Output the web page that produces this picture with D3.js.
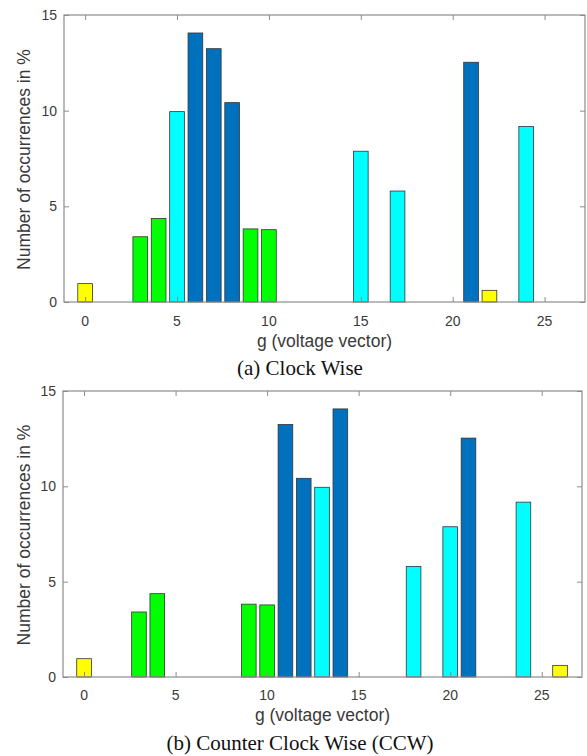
<!DOCTYPE html>
<html><head><meta charset="utf-8">
<script src="https://cdn.jsdelivr.net/npm/d3@7"></script>
<style>body{margin:0;background:#fff}svg{display:block}</style>
</head><body>
<svg id="c" width="587" height="756"></svg>
<script>
// Data: (a) Clock Wise
const cwG      = [0, 3, 4, 5, 6, 7, 8, 9, 10, 15, 17, 21, 22, 24];
const cwValues = [0.96, 3.41, 4.37, 9.95, 14.06, 13.24, 10.42, 3.82, 3.78, 7.88, 5.8, 12.53, 0.61, 9.17];
const cwColor  = ["yellow","green","green","cyan","blue","blue","blue","green","green","cyan","cyan","blue","yellow","cyan"];
// Data: (b) Counter Clock Wise
const ccwG      = [0, 3, 4, 9, 10, 11, 12, 13, 14, 18, 20, 21, 24, 26];
const ccwValues = [0.96, 3.41, 4.37, 3.82, 3.78, 13.24, 10.42, 9.95, 14.06, 5.8, 7.88, 12.53, 9.17, 0.61];
const ccwColor  = ["yellow","green","green","green","green","blue","blue","cyan","blue","cyan","cyan","blue","cyan","yellow"];
const xTicks = [0, 5, 10, 15, 20, 25];
const yTicks = [0, 5, 10, 15];
const xLabel = "g (voltage vector)";
const yLabel = "Number of occurrences in %";
const captions = ["(a) Clock Wise", "(b) Counter Clock Wise (CCW)"];

const palette = {yellow:"#ffff00", green:"#00ff00", cyan:"#00ffff", blue:"#0072bd"};
const svg = d3.select("#c");
const axisColor = "#8c8c8c", textColor = "#3a3a3a";

const panels = [
  {g: cwG, v: cwValues, c: cwColor, left: 64, right: 585, top: 15, bottom: 302, cap: captions[0], tickY: 326, labY: 347, capY: 375, ylabX: 30},
  {g: ccwG, v: ccwValues, c: ccwColor, left: 63, right: 582, top: 391, bottom: 677, cap: captions[1], tickY: 700, labY: 721, capY: 750, ylabX: 30}
];

panels.forEach(p => {
  const x = d3.scaleLinear().domain([-1.15, 27.2]).range([p.left, p.right]);
  const y = d3.scaleLinear().domain([0, 15]).range([p.bottom, p.top]);
  const gEl = svg.append("g");
  const bw = x(0.8) - x(0);
  // bars
  gEl.selectAll("rect.bar").data(p.g.map((g,i)=>({g, v:p.v[i], c:p.c[i]}))).join("rect")
    .attr("x", d => x(d.g) - bw/2).attr("width", bw)
    .attr("y", d => y(d.v)).attr("height", d => y(0) - y(d.v))
    .attr("fill", d => palette[d.c]).attr("stroke", "#333").attr("stroke-width", 0.8);
  // box
  gEl.append("rect").attr("x", p.left).attr("y", p.top).attr("width", p.right - p.left).attr("height", p.bottom - p.top)
    .attr("fill", "none").attr("stroke", axisColor).attr("stroke-width", 1.2);
  const tl = 5;
  const xb = gEl.append("g").attr("transform", `translate(0,${p.bottom})`)
    .call(d3.axisBottom(x).tickValues(xTicks).tickSizeInner(-tl).tickSizeOuter(0).tickPadding(0));
  xb.select(".domain").remove();
  xb.selectAll("line").attr("stroke", axisColor);
  xb.selectAll("text").remove();
  const xt = gEl.append("g").attr("transform", `translate(0,${p.top})`)
    .call(d3.axisTop(x).tickValues(xTicks).tickSizeInner(-tl).tickSizeOuter(0));
  xt.select(".domain").remove(); xt.selectAll("text").remove(); xt.selectAll("line").attr("stroke", axisColor);
  gEl.selectAll("text.xt").data(xTicks).join("text").attr("class","xt")
    .attr("x", d => x(d)).attr("y", p.tickY).attr("text-anchor","middle")
    .attr("font-family","Liberation Sans, Arial, sans-serif").attr("font-size",14).attr("fill",textColor).text(d=>d);
  const yl = gEl.append("g").attr("transform", `translate(${p.left},0)`)
    .call(d3.axisLeft(y).tickValues(yTicks).tickSizeInner(-tl).tickSizeOuter(0));
  yl.select(".domain").remove(); yl.selectAll("text").remove(); yl.selectAll("line").attr("stroke", axisColor);
  const yr = gEl.append("g").attr("transform", `translate(${p.right},0)`)
    .call(d3.axisRight(y).tickValues(yTicks).tickSizeInner(-tl).tickSizeOuter(0));
  yr.select(".domain").remove(); yr.selectAll("text").remove(); yr.selectAll("line").attr("stroke", axisColor);
  gEl.selectAll("text.yt").data(yTicks).join("text").attr("class","yt")
    .attr("x", p.left - 7).attr("y", d => y(d) + 5).attr("text-anchor","end")
    .attr("font-family","Liberation Sans, Arial, sans-serif").attr("font-size",14).attr("fill",textColor).text(d=>d);
  gEl.append("text").attr("x", (x(-1.15)+x(27.2))/2).attr("y", p.labY).attr("text-anchor","middle")
    .attr("font-family","Liberation Sans, Arial, sans-serif").attr("font-size",17.5).attr("fill",textColor).text(xLabel);
  gEl.append("text").attr("transform", `translate(${p.ylabX},${(p.top+p.bottom)/2 + 1}) rotate(-90)`).attr("text-anchor","middle")
    .attr("font-family","Liberation Sans, Arial, sans-serif").attr("font-size",17.5).attr("fill",textColor).text(yLabel);
  gEl.append("text").attr("x", 300).attr("y", p.capY).attr("text-anchor","middle")
    .attr("font-family","Liberation Serif, Times New Roman, serif").attr("font-size",21).attr("fill","#111").text(p.cap);
});
</script>
</body></html>
